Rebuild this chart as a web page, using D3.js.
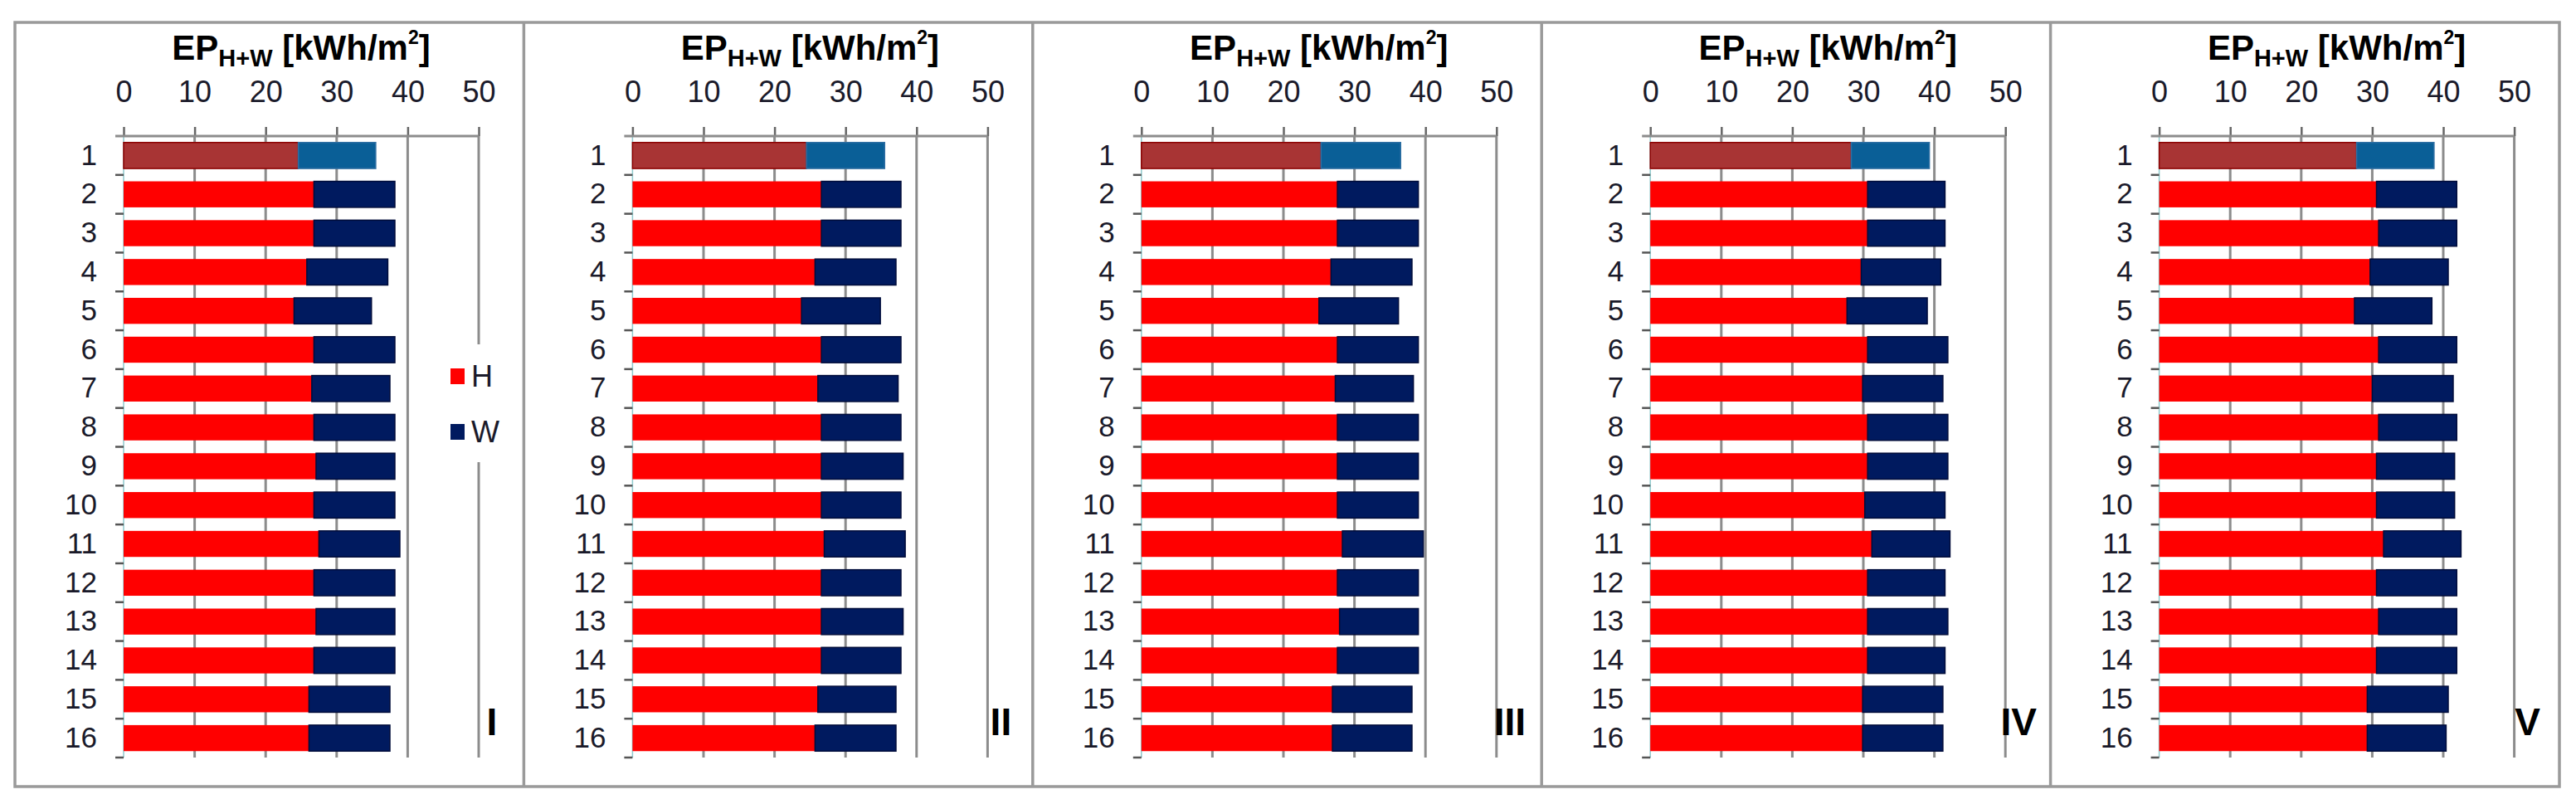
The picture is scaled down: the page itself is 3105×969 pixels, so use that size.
<!DOCTYPE html>
<html>
<head>
<meta charset="utf-8">
<script src="https://cdn.jsdelivr.net/npm/d3@7/dist/d3.min.js"></script>
<style>
  html, body { margin: 0; padding: 0; background: #fff; }
  svg { display: block; font-family: "Liberation Sans", Arial, sans-serif; }
</style>
</head>
<body>
<svg id="chart" width="3105" height="969"></svg>
<script>
// ── Data ──────────────────────────────────────────────────────────────────────
const cats = d3.range(1, 17).map(String);
const ticks = [0, 10, 20, 30, 40, 50];
const panelLabels = ['I', 'II', 'III', 'IV', 'V'];

// H = heating, W = hot water  [kWh/m2]
const H_I   = [24.6, 26.8, 26.8, 25.8, 24.0, 26.8, 26.5, 26.8, 27.1, 26.8, 27.5, 26.8, 27.1, 26.8, 26.1, 26.1];
const W_I   = [10.9, 11.4, 11.4, 11.4, 10.9, 11.4, 11.0, 11.4, 11.1, 11.4, 11.4, 11.4, 11.1, 11.4, 11.4, 11.4];
const H_II  = [24.5, 26.6, 26.6, 25.7, 23.8, 26.6, 26.1, 26.6, 26.6, 26.6, 27.0, 26.6, 26.6, 26.6, 26.1, 25.7];
const W_II  = [11.0, 11.2, 11.2, 11.4, 11.1, 11.2, 11.3, 11.2, 11.5, 11.2, 11.4, 11.2, 11.5, 11.2, 11.0, 11.4];
const H_III = [25.3, 27.6, 27.6, 26.7, 25.0, 27.6, 27.3, 27.6, 27.6, 27.6, 28.3, 27.6, 27.9, 27.6, 26.9, 26.9];
const W_III = [11.2, 11.4, 11.4, 11.4, 11.2, 11.4, 11.0, 11.4, 11.4, 11.4, 11.4, 11.4, 11.1, 11.4, 11.2, 11.2];
const H_IV  = [28.3, 30.6, 30.6, 29.7, 27.7, 30.6, 29.9, 30.6, 30.6, 30.2, 31.2, 30.6, 30.6, 30.6, 29.9, 29.9];
const W_IV  = [11.0, 10.9, 10.9, 11.2, 11.3, 11.3, 11.3, 11.3, 11.3, 11.3, 11.0, 10.9, 11.3, 10.9, 11.3, 11.3];
const H_V   = [27.8, 30.6, 30.9, 29.7, 27.5, 30.9, 30.0, 30.9, 30.6, 30.6, 31.6, 30.6, 30.9, 30.6, 29.3, 29.3];
const W_V   = [10.9, 11.3, 11.0, 11.0, 10.9, 11.0, 11.4, 11.0, 11.0, 11.0, 10.9, 11.3, 11.0, 11.3, 11.4, 11.1];

const heat = [H_I, H_II, H_III, H_IV, H_V];
const water = [W_I, W_II, W_III, W_IV, W_V];

// ── Style ─────────────────────────────────────────────────────────────────────
const CLR = { h: '#ff0000', w: '#001a5f', h1: '#a83434', w1: '#0a5f97', h1s: '#8b0000', w1s: '#2f6fa3' };
const GRID = '#8c8c8c';
const BOX = { l: 18, t: 27, r: 3085, b: 948 };
const PW = (BOX.r - BOX.l) / 5;

const svg = d3.select('#chart');

// ── Panels ────────────────────────────────────────────────────────────────────
panelLabels.forEach((lab, k) => {
  const g = svg.append('g').attr('transform', `translate(${BOX.l + k * PW},0)`);
  const x = d3.scaleLinear().domain([0, 50]).range([131, 559]);
  const y = d3.scaleBand().domain(cats).range([164, 913]).paddingInner(0.33).paddingOuter(0.165);
  const [y0, y1] = y.range();

  // vertical gridlines
  g.append('g').selectAll('line').data(ticks.slice(1)).join('line')
    .attr('x1', d => x(d)).attr('x2', d => x(d))
    .attr('y1', y0).attr('y2', y1)
    .attr('stroke', GRID).attr('stroke-width', 3);

  // thin value-axis line at 0
  g.append('line').attr('x1', x(0)).attr('x2', x(0)).attr('y1', y0).attr('y2', y1)
    .attr('stroke', '#8fc9cc').attr('stroke-width', 1.5);

  // top axis
  const ax = g.append('g').attr('transform', `translate(0,${y0})`)
    .call(d3.axisTop(x).tickValues(ticks).tickSize(11).tickPadding(30).tickSizeOuter(0));
  ax.select('.domain').remove();
  ax.selectAll('.tick line').attr('stroke', '#666').attr('stroke-width', 2.5);
  ax.selectAll('.tick text').attr('font-size', 36).attr('fill', '#1a1a2a')
    .attr('font-family', '"Liberation Sans", Arial, sans-serif');
  g.append('line').attr('x1', x(0) - 10).attr('x2', x(50)).attr('y1', y0).attr('y2', y0)
    .attr('stroke', GRID).attr('stroke-width', 3);

  // category boundary ticks
  const bounds = cats.map(c => y(c) + y.bandwidth() + y.step() * y.paddingInner() / 2);
  g.append('g').selectAll('line').data(bounds).join('line')
    .attr('x1', x(0) - 10).attr('x2', x(0))
    .attr('y1', d => d).attr('y2', d => d)
    .attr('stroke', '#555').attr('stroke-width', 2.5);

  // category labels
  const ay = g.append('g').attr('transform', `translate(${x(0)},0)`)
    .call(d3.axisLeft(y).tickSize(0).tickPadding(32));
  ay.select('.domain').remove();
  ay.selectAll('.tick text').attr('font-size', 35).attr('fill', '#1a1a2a')
    .attr('font-family', '"Liberation Sans", Arial, sans-serif');

  // stacked bars
  const rows = cats.map((c, i) => ({ c, i, h: heat[k][i], w: water[k][i] }));
  const bars = g.append('g');
  bars.selectAll('rect.h').data(rows).join('rect').attr('class', 'h')
    .attr('x', x(0)).attr('y', d => y(d.c))
    .attr('width', d => x(d.h) - x(0)).attr('height', y.bandwidth())
    .attr('fill', d => d.i === 0 ? CLR.h1 : CLR.h)
    .attr('stroke', d => d.i === 0 ? CLR.h1s : 'none').attr('stroke-width', 1.5);
  bars.selectAll('rect.w').data(rows).join('rect').attr('class', 'w')
    .attr('x', d => x(d.h)).attr('y', d => y(d.c))
    .attr('width', d => x(d.h + d.w) - x(d.h)).attr('height', y.bandwidth())
    .attr('fill', d => d.i === 0 ? CLR.w1 : CLR.w)
    .attr('stroke', d => d.i === 0 ? CLR.w1s : '#000c3a').attr('stroke-width', 1.5);

  // title
  const t = g.append('text').attr('x', (x(0) + x(50)) / 2).attr('y', 72)
    .attr('text-anchor', 'middle').attr('font-weight', 'bold').attr('font-size', 42).attr('fill', '#000');
  t.append('tspan').text('EP');
  t.append('tspan').attr('font-size', 29).attr('dy', 8).text('H+W');
  t.append('tspan').attr('dy', -8).text(' [kWh/m');
  t.append('tspan').attr('font-size', 23).attr('dy', -19).text('2');
  t.append('tspan').attr('dy', 19).text(']');

  // legend (first panel only)
  if (k === 0) {
    const lg = g.append('g');
    lg.append('rect').attr('x', 510).attr('y', 415).attr('width', 90).attr('height', 142).attr('fill', '#fff');
    const items = [['H', CLR.h, 453], ['W', CLR.w, 520]];
    items.forEach(([name, col, cy]) => {
      lg.append('rect').attr('x', 525).attr('y', cy - 9).attr('width', 17).attr('height', 19).attr('fill', col);
      lg.append('text').attr('x', 550).attr('y', cy + 13).attr('font-size', 36).attr('fill', '#1a1a2a').text(name);
    });
  }

  // panel numeral
  g.append('text').attr('x', 575).attr('y', 886).attr('text-anchor', 'middle')
    .attr('font-weight', 'bold').attr('font-size', 46).attr('fill', '#000').text(lab);
});

// ── Frame ─────────────────────────────────────────────────────────────────────
svg.append('rect').attr('x', BOX.l).attr('y', BOX.t)
  .attr('width', BOX.r - BOX.l).attr('height', BOX.b - BOX.t)
  .attr('fill', 'none').attr('stroke', '#9a9a9a').attr('stroke-width', 3.5);
svg.append('g').selectAll('line').data(d3.range(1, 5)).join('line')
  .attr('x1', d => BOX.l + d * PW).attr('x2', d => BOX.l + d * PW)
  .attr('y1', BOX.t).attr('y2', BOX.b)
  .attr('stroke', '#9a9a9a').attr('stroke-width', 3.5);
</script>
</body>
</html>
